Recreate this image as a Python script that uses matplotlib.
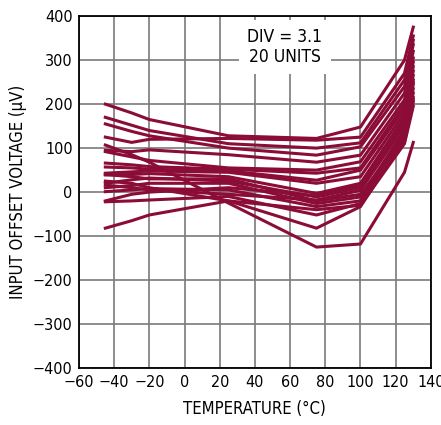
import numpy as np
import matplotlib
matplotlib.use('Agg')
import matplotlib.pyplot as plt

plt.rcParams['font.family'] = ['DejaVu Sans']
plt.rcParams['font.stretch'] = 'condensed'

# temperature points (deg C)
temps = [-45, -30, -20, 25, 75, 100, 125, 130]

# offset voltage (uV) per unit, 20 units
units = [
    [200, 180, 165, 128, 122, 148, 300, 375],
    [125, 113, 120, 122, 118, 125, 270, 355],
    [170, 152, 140, 110, 100, 112, 255, 345],
    [155, 138, 128, 100, 84, 103, 240, 335],
    [107, 85, 68, -25, -125, -118, 45, 113],
    [95, 92, 96, 85, 68, 84, 225, 320],
    [92, 80, 72, 55, 50, 69, 210, 305],
    [66, 62, 58, 52, 43, 55, 200, 295],
    [57, 55, 52, 48, 27, 50, 190, 285],
    [43, 46, 48, 45, 20, 35, 180, 275],
    [39, 40, 42, 35, -3, 20, 170, 265],
    [20, 28, 32, 25, -11, 10, 160, 255],
    [16, 10, 5, -5, -18, 4, 150, 245],
    [10, 15, 20, 20, -26, -11, 140, 235],
    [1, 5, 8, 5, -33, -20, 130, 225],
    [25, 20, 10, -20, -82, -33, 120, 215],
    [-22, -20, -18, -10, -52, -26, 115, 205],
    [-82, -65, -52, -20, -40, -30, 110, 195],
    [40, 35, 30, 30, -20, -5, 125, 210],
    [-20, -5, 0, 10, -8, 15, 155, 250],
]

xticks = np.arange(-60, 141, 20)
yticks = np.arange(-400, 401, 100)

fig = plt.figure(figsize=(4.41, 4.25), dpi=100)
ax = fig.add_axes([0.179, 0.134, 0.798, 0.828])

for u in units:
    ax.plot(temps, u, color='#8B0C36', lw=2.2, solid_joinstyle='miter', zorder=3)

ax.set_xlim(-60, 140)
ax.set_ylim(-400, 400)
ax.set_xticks(xticks)
ax.set_yticks(yticks)
ax.grid(True, color='#7a7a7a', lw=1.2, zorder=1)
ax.tick_params(length=0, labelsize=11.5)
ax.tick_params(axis='x', pad=5)
ax.tick_params(axis='y', pad=4.5)
for s in ax.spines.values():
    s.set_linewidth(1.3)
    s.set_zorder(5)

ax.text(57, 330, 'DIV = 3.1\n20 UNITS', ha='center', va='center', fontsize=12.5,
        linespacing=1.1, zorder=4,
        bbox=dict(facecolor='white', edgecolor='none', pad=6))

ax.set_xlabel('TEMPERATURE (°C)', fontsize=12, labelpad=7)
ax.set_ylabel('INPUT OFFSET VOLTAGE (µV)', fontsize=12, labelpad=4)

fig.savefig('out.png', dpi=100)
